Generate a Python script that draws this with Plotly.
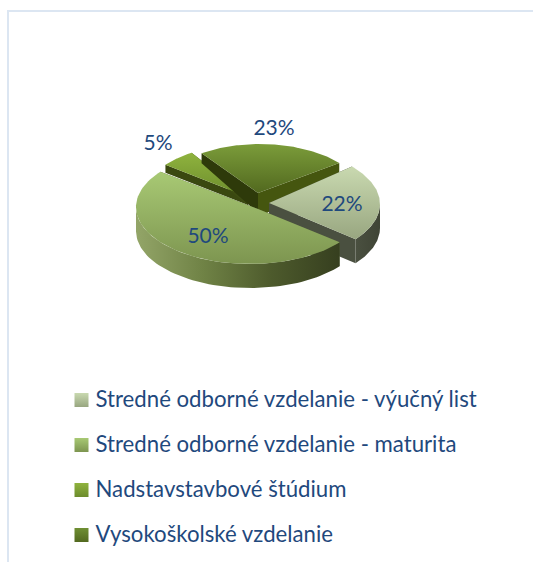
import numpy as np
import plotly.graph_objects as go

# ---- data ----
categories = ["Stredné odborné vzdelanie - výučný list",
              "Stredné odborné vzdelanie - maturita",
              "Nadstavstavbové štúdium",
              "Vysokoškolské vzdelanie"]
values = [22, 50, 5, 23]

# ---- geometry / style of the tilted pie (pixel scale of the page) ----
W, H = 533, 562
START_ANGLE = 41
RADII = [(114, 57), (114, 57), (114, 57), (105, 55)]
DEPTHS = [24, 24, 8, 10]
CENTRES = [(266, 204), (250, 207), (255, 200), (260, 199)]
APEX_POS_SHIFT = [(3, -1), (8, 2), (-7, -3), (-2, -6)]
APEX_EXTRA_DEPTH = [(0, 0), (0, 0), (0, 0), (10, 15)]
TOP_GRAD = [("#c9d9b0", "#98a680"), ("#a8c974", "#7d9550"), ("#8fb33e", "#6c8c2c"), ("#7b9c3a", "#52691f")]
LEGEND_GRAD = [("#c9d9b0", "#98a680"), ("#a8c974", "#7d9550"), ("#8fb33e", "#6c8c2c"), ("#6f8f33", "#52691f")]
OUTER_GRAD = [["#4a5040", "#3f4435"], ["#93a568", "#6f8245", "#4d5a2c", "#363f1f"],
              ["#3c4a10", "#3c4a10"], ["#3c4a10", "#3c4a10"]]
EDGE_COL = [("#3f4435", "#4a5040"), ("#55633a", "#55633a"), ("#3a4810", "#3d4c12"), ("#2e3a0a", "#45560f")]
DRAW_ORDER = [2, 3, 0, 1]
LABEL_POS = [(342, 205.5), (208, 237.5), (158, 144.5), (274, 129.5)]
LEGEND_Y = [401.5, 446.5, 491.5, 536.5]
TEXT_COL = "#1f497d"
FONT = "Lato, Carlito, sans-serif"

fig = go.Figure()


def poly(xs, ys, colors, kind):
    stops = [[i / (len(colors) - 1), c] for i, c in enumerate(colors)]
    fig.add_trace(go.Scatter(
        x=np.append(xs, xs[0]), y=np.append(ys, ys[0]), mode="lines",
        line=dict(width=0), fill="toself",
        fillgradient=dict(type=kind, colorscale=stops),
        hoverinfo="skip", showlegend=False))


total = sum(values)
ends = START_ANGLE - np.cumsum(values) * 360 / total
starts = np.concatenate(([START_ANGLE], ends[:-1]))

for i in DRAW_ORDER:
    a0, a1 = starts[i], ends[i]
    cx, cy = CENTRES[i]
    rx, ry = RADII[i]
    d = DEPTHS[i]
    ax, ay = cx + APEX_POS_SHIFT[i][0], cy + APEX_POS_SHIFT[i][1]
    t = np.radians(np.linspace(a0, a1, 80))
    ox, oy = cx + rx * np.cos(t), cy - ry * np.sin(t)

    # straight cut walls
    for (ex, ey), col, extra in zip([(ox[0], oy[0]), (ox[-1], oy[-1])], EDGE_COL[i], APEX_EXTRA_DEPTH[i]):
        poly(np.array([ax, ex, ex, ax]),
             np.array([ay, ey, ey + d, ay + d + extra]), [col, col], "horizontal")

    # outer rim, only where it faces the viewer
    vis = np.sin(t) < 0
    if vis.any():
        rx_, ry_ = ox[vis], oy[vis]
        poly(np.concatenate((rx_, rx_[::-1])), np.concatenate((ry_, ry_[::-1] + d)),
             OUTER_GRAD[i], "horizontal")

    # top face (colours listed bottom-to-top because y is reversed)
    poly(np.concatenate(([ax], ox)), np.concatenate(([ay], oy)), list(TOP_GRAD[i])[::-1], "vertical")

# percentage labels
fig.add_trace(go.Scatter(
    x=[p[0] for p in LABEL_POS], y=[p[1] for p in LABEL_POS], mode="text",
    text=[f"{v}%" for v in values], textposition="middle center",
    textfont=dict(family=FONT, size=21, color=TEXT_COL), hoverinfo="skip", showlegend=False))

# legend column
for name, y, grad in zip(categories, LEGEND_Y, LEGEND_GRAD):
    fig.add_trace(go.Scatter(
        x=[81.5], y=[y - 1.5], mode="markers", name=name, hoverinfo="name",
        marker=dict(symbol="square", size=14, color=grad[0], line=dict(width=0),
                    gradient=dict(type="vertical", color=grad[1])),
        showlegend=False))
fig.add_trace(go.Scatter(
    x=[95.5] * len(categories), y=LEGEND_Y, mode="text", text=categories,
    textposition="middle right", hoverinfo="skip", showlegend=False,
    textfont=dict(family=FONT, size=22.2, color=TEXT_COL)))

frame = "#dce6f2"
fig.update_layout(
    width=W, height=H, margin=dict(l=0, r=0, t=0, b=0),
    paper_bgcolor="white", plot_bgcolor="white",
    xaxis=dict(range=[0, W], visible=False, fixedrange=True),
    yaxis=dict(range=[H, 0], visible=False, fixedrange=True),
    shapes=[
        dict(type="line", x0=8, x1=8, y0=10, y1=H, line=dict(color=frame, width=2)),
        dict(type="line", x0=7, x1=W, y0=11, y1=11, line=dict(color=frame, width=2)),
    ],
)
fig.write_html("out.html", config={"displayModeBar": False},
               post_script="document.body.style.margin='0';document.body.style.overflow='hidden';")
